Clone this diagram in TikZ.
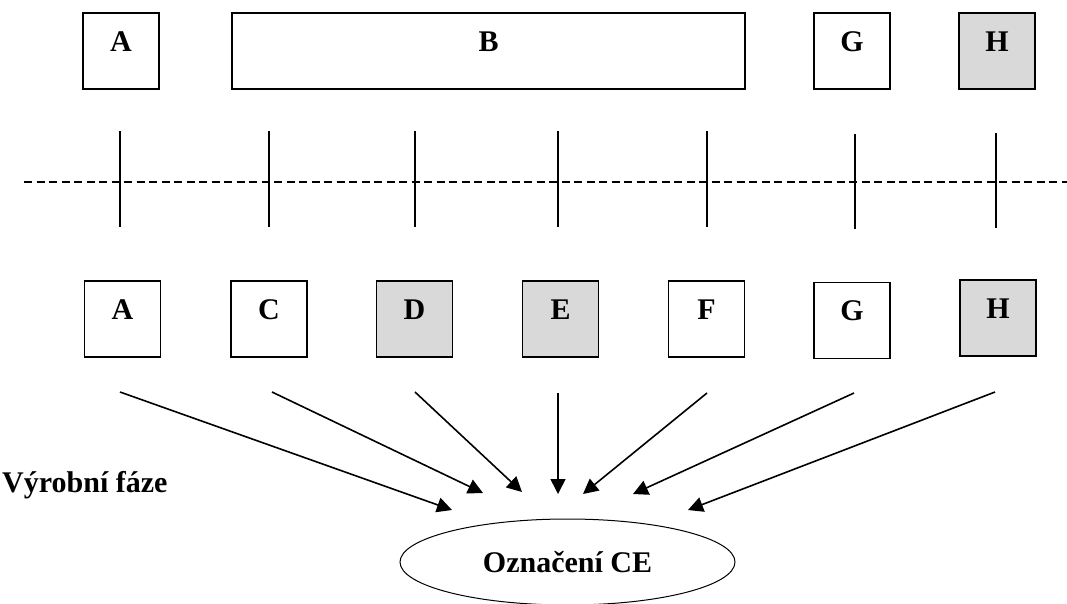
\documentclass[tikz,border=0pt]{standalone}
\usepackage{fontspec}
\setmainfont{Liberation Serif}
\usetikzlibrary{arrows.meta,shapes.geometric}
\definecolor{boxgray}{HTML}{D9D9D9}
\begin{document}
\begin{tikzpicture}[x=1pt,y=-1pt,
  lbl/.style={font=\fontsize{30}{36}\selectfont\bfseries},
  box/.style={lbl, draw=black, line width=1.3pt, minimum width=76pt, minimum height=76pt,
    inner sep=0pt, text height=20pt, text depth=20pt},
  shaded/.style={box, fill=boxgray},
  tick/.style={line width=2pt},
  flow/.style={line width=1.6pt, -{Triangle[length=15pt,width=15pt]}},
]
\useasboundingbox (0,0) rectangle (1067,603);

% upper row of stages
\node[box] (tA) at (121,51) {A};
\node[box, minimum width=513pt] (tB) at (488.5,51) {B};
\node[box] (tG) at (852,51) {G};
\node[shaded] (tH) at (997,51) {H};

% dividing line with tick marks
\draw[line width=1.5pt, dash pattern=on 8pt off 4.5pt] (24,182) -- (1067,182);
\foreach \x/\a/\b in {120/131/227, 269/131/227, 414.5/131/227, 557.5/131/227,
                      706.5/131/227, 854.5/134/229, 996/133/228}
  \draw[tick] (\x,\a) -- (\x,\b);

% lower row of stages
\node[box] (bA) at (122.5,319) {A};
\node[box] (bC) at (269,319) {C};
\node[shaded] (bD) at (414.5,319) {D};
\node[shaded] (bE) at (560.5,319) {E};
\node[box] (bF) at (706.5,319) {F};
\node[box] (bG) at (852,320.5) {G};
\node[shaded] (bH) at (998,318) {H};

% caption and target
\node[lbl, anchor=base west, inner sep=0pt] (faze) at (2,492) {Výrobní fáze};
\node[lbl, draw, ellipse, line width=1pt, minimum width=335pt, minimum height=86pt,
  inner sep=0pt, text height=20pt, text depth=0pt] (ce) at (567.5,562) {Označení CE};

% arrow end points
\coordinate (sA) at (120,392);   \coordinate (eA) at (452,510);
\coordinate (sC) at (272,392);   \coordinate (eC) at (483,493);
\coordinate (sD) at (415,392);   \coordinate (eD) at (522,492);
\coordinate (sE) at (558,393);   \coordinate (eE) at (558,494);
\coordinate (sF) at (707,393);   \coordinate (eF) at (583,494);
\coordinate (sG) at (854,393);   \coordinate (eG) at (633,494);
\coordinate (sH) at (995,392);   \coordinate (eH) at (688,510);

\foreach \k in {A,C,D,E,F,G,H}
  \draw[flow] (s\k) -- (e\k);
\end{tikzpicture}
\end{document}
